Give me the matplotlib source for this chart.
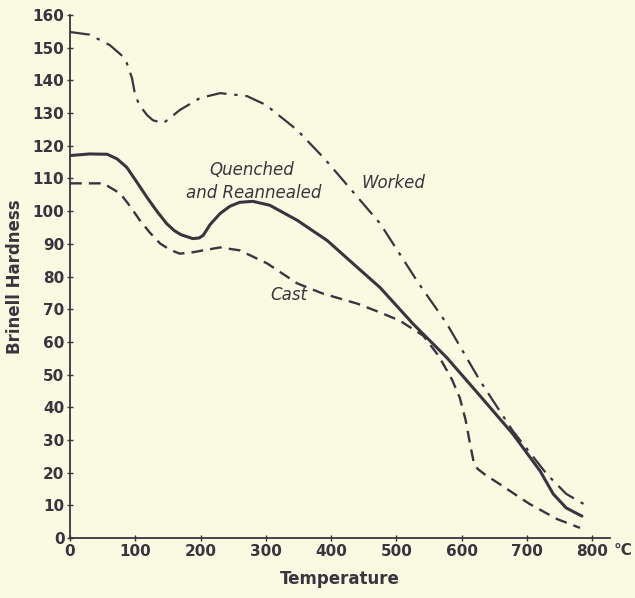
import matplotlib.pyplot as plt

# hardness vs temperature
temp_worked = [0, 30, 61, 80, 87, 95, 99, 104, 110, 118, 127, 143, 168, 199, 230, 271,
               300, 348, 390, 433, 475, 533, 577, 628, 678, 730, 760, 792]
hard_worked = [154.8, 154, 150.8, 147.5, 145.3, 140.7, 136.4, 133.5, 131.5, 129.4,
               127.8, 126.9, 130.9, 134.6, 136.1, 135.2, 132.5, 124.8, 116, 106, 96.2,
               78.2, 65.6, 48.1, 32.8, 19.6, 13.5, 9.8]

temp_quench = [0, 30, 57, 72, 87, 102, 118, 133, 148, 160, 170, 188, 198, 204, 215,
               230, 245, 260, 280, 306, 348, 394, 440, 475, 525, 577, 628, 678, 720,
               740, 760, 784]
hard_quench = [117, 117.5, 117.4, 116, 113.4, 109, 104.2, 100, 96.2, 94, 92.8, 91.6,
               91.8, 92.6, 96, 99.3, 101.5, 102.7, 103, 101.8, 97.2, 91, 82.8, 76.6,
               65.6, 55.2, 43.5, 31.9, 20.5, 13.5, 9.2, 6.7]

temp_cast = [0, 51, 77, 92, 107, 122, 138, 153, 168, 185, 204, 230, 260, 302, 348, 387,
             440, 475, 505, 541, 565, 585, 597, 606, 613, 618, 624, 635, 658, 704, 746, 781]
hard_cast = [108.5, 108.5, 105.4, 101.5, 97.2, 93.5, 90.1, 88.2, 87, 87.3, 88, 88.9,
             88, 84, 77.9, 74.8, 71.7, 69, 66.5, 61.9, 55.6, 48.5, 42.9, 36, 28.5, 23.5,
             21.2, 19.5, 16.5, 10.4, 5.8, 3.1]

x_ticks = [0, 100, 200, 300, 400, 500, 600, 700, 800]
y_ticks = list(range(0, 161, 10))

paper = "#fafae3"
ink = "#3a343f"

fig = plt.figure(figsize=(6.35, 5.98), dpi=100, facecolor=paper)
ax = fig.add_axes([0.1102, 0.1003, 0.8504, 0.8746], facecolor=paper)

ax.plot(temp_worked, hard_worked, color=ink, lw=1.6, dashes=(9, 3.5, 1.5, 3.5))
ax.plot(temp_quench, hard_quench, color=ink, lw=2.2, solid_capstyle="round",
        solid_joinstyle="round")
ax.plot(temp_cast, hard_cast, color=ink, lw=1.7, dashes=(5, 3))

ax.set_xlim(0, 827)
ax.set_ylim(0, 160)
ax.spines["top"].set_visible(False)
ax.spines["right"].set_visible(False)
for s in ("left", "bottom"):
    ax.spines[s].set_color(ink)
    ax.spines[s].set_linewidth(1.3)

ax.set_xticks(x_ticks)
ax.set_yticks(y_ticks)
ax.tick_params(direction="inout", length=4, width=1, color=ink, labelcolor=ink,
               labelsize=11, pad=2)
for lab in ax.get_xticklabels() + ax.get_yticklabels():
    lab.set_fontweight("bold")

ax.text(833, -1.5, "°C", color=ink, fontsize=11, fontweight="bold",
        ha="left", va="top")

ax.set_ylabel("Brinell Hardness", color=ink, fontsize=12, fontweight="bold",
              labelpad=6)
ax.set_xlabel("Temperature", color=ink, fontsize=12, fontweight="bold", labelpad=8)

ax.text(279, 112.5, "Quenched", color=ink, fontsize=12, style="italic",
        ha="center", va="center")
ax.text(281, 105.7, "and Reannealed", color=ink, fontsize=12, style="italic",
        ha="center", va="center")
ax.text(495, 108.5, "Worked", color=ink, fontsize=12, style="italic",
        ha="center", va="center")
ax.text(335, 74.2, "Cast", color=ink, fontsize=12, style="italic",
        ha="center", va="center")

fig.savefig("out.png", dpi=100, facecolor=paper)
